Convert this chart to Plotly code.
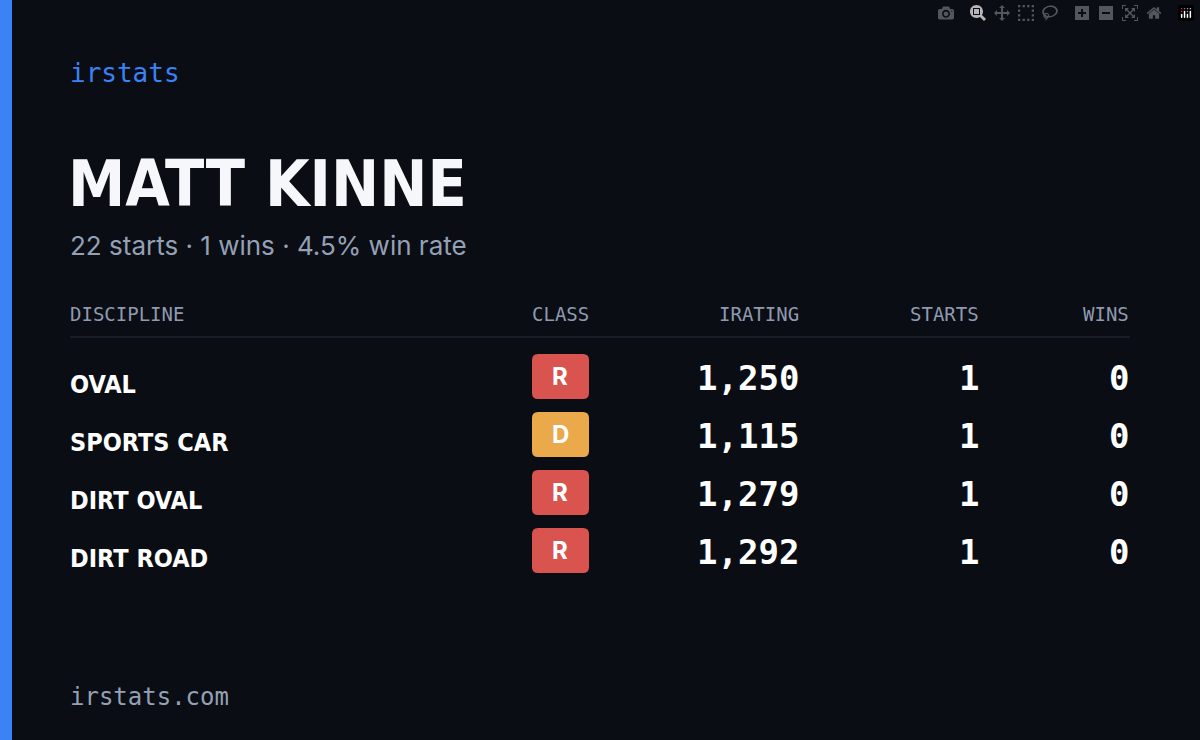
import plotly.graph_objects as go

disciplines = ["OVAL", "SPORTS CAR", "DIRT OVAL", "DIRT ROAD"]
classes = ["R", "D", "R", "R"]
iratings = [1250, 1115, 1279, 1292]
starts = [1, 1, 1, 1]
wins = [0, 0, 0, 0]
headers = ["DISCIPLINE", "CLASS", "IRATING", "STARTS", "WINS"]

BG = "#0a0d14"
BLUE = "#3b82f6"
MUTED = "#8f9ab0"
MONO = "DejaVu Sans Mono"
COND = "Liberation Sans Narrow, DejaVu Sans Condensed, DejaVu Sans"
class_colors = {"R": "#d9534f", "D": "#eaa94a"}

fig = go.Figure()
fig.add_trace(go.Scatter(x=[0], y=[0], mode="markers", marker=dict(opacity=0), hoverinfo="skip"))

shapes = [dict(type="rect", x0=0, x1=12, y0=0, y1=740, fillcolor=BLUE, line_width=0),
          dict(type="line", x0=70, x1=1130, y0=337, y1=337, line=dict(color="#1c2230", width=1.5))]
ann = []

def text(x, y, s, size, color, family, anchor="left", bold=False):
    ann.append(dict(x=x, y=y, text=f"<b>{s}</b>" if bold else s, showarrow=False,
                    xanchor=anchor, yanchor="middle",
                    font=dict(size=size, color=color, family=family)))

text(68, 73, "irstats", 26, BLUE, MONO)
text(66, 184, "MATT KINNE", 64, "#f5f7fb", COND, bold=True)
text(68, 245, "22 starts · 1 wins · 4.5% win rate", 26, "#94a0b4", "Inter")
text(68, 314, headers[0], 19, MUTED, MONO)
text(560, 314, headers[1], 19, MUTED, MONO, "center")
text(801, 314, headers[2], 19, MUTED, MONO, "right")
text(981, 314, headers[3], 19, MUTED, MONO, "right")
text(1131, 314, headers[4], 19, MUTED, MONO, "right")

for i, name in enumerate(disciplines):
    y = 378 + 58 * i
    text(68, y + 6, name, 25, "#ffffff", COND, bold=True)
    shapes.append(dict(type="path", fillcolor=class_colors[classes[i]], line_width=0,
                       path=f"M 538 {y-24} L 583 {y-24} Q 589 {y-24} 589 {y-18} L 589 {y+15} Q 589 {y+21} 583 {y+21} "
                            f"L 538 {y+21} Q 532 {y+21} 532 {y+15} L 532 {y-18} Q 532 {y-24} 538 {y-24} Z"))
    text(560, y - 2, classes[i], 24, "#ffffff", "Inter", "center", bold=True)
    text(801, y, f"{iratings[i]:,}", 34, "#ffffff", MONO, "right", bold=True)
    text(981, y, str(starts[i]), 34, "#ffffff", MONO, "right", bold=True)
    text(1131, y, str(wins[i]), 34, "#ffffff", MONO, "right", bold=True)

text(68, 697, "irstats.com", 24, "#94a0b4", MONO)

fig.update_layout(width=1200, height=740, margin=dict(l=0, r=0, t=0, b=0),
                  paper_bgcolor=BG, plot_bgcolor=BG, showlegend=False,
                  xaxis=dict(range=[0, 1200], visible=False),
                  yaxis=dict(range=[740, 0], visible=False),
                  shapes=shapes, annotations=ann)
fig.write_html("out.html", post_script="document.body.style.margin='0';document.body.style.background='#0a0d14';")
